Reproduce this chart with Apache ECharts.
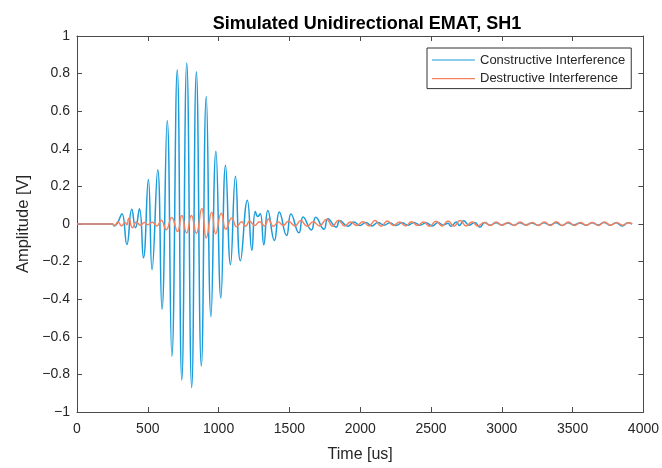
<!DOCTYPE html>
<html>
<head>
<meta charset="utf-8">
<script src="https://cdn.jsdelivr.net/npm/echarts@6/dist/echarts.min.js"></script>
<style>
html,body{margin:0;padding:0;background:#fff;}
#chart{width:662px;height:468px;}
</style>
</head>
<body>
<div id="chart"></div>
<script>
// ---- data (time [us], amplitude [V]) ----
var titleText = 'Simulated Unidirectional EMAT, SH1';
var xLabel = 'Time [us]';
var yLabel = 'Amplitude [V]';
var seriesNames = ['Constructive Interference', 'Destructive Interference'];
var xTicks = [0, 500, 1000, 1500, 2000, 2500, 3000, 3500, 4000];
var yTicks = [-1, -0.8, -0.6, -0.4, -0.2, 0, 0.2, 0.4, 0.6, 0.8, 1];

var constructive = [
  [0,0],[250,0],[262,-0.01],[285,0.004],[317,0.055],[352,-0.109],[387,0.078],[413,-0.02],
  [441,0.081],[469,-0.18],[504,0.237],[530,-0.242],[570,0.289],[600,-0.453],[637,0.55],
  [670,-0.704],[708,0.82],[740,-0.83],[775,0.856],[810,-0.87],[843,0.81],[878,-0.756],
  [913,0.678],[946,-0.493],[981,0.387],[1016,-0.393],[1049,0.313],[1084,-0.216],[1119,0.254],
  [1154,-0.196],[1203,0.126],[1235,-0.14],[1259,0.067],[1277,0.04],[1294,0.055],[1319,-0.11],
  [1348,0.072],[1394,-0.088],[1429,0.064],[1480,-0.061],[1511,0.053],[1567,-0.047],[1597,0.037],
  [1655,-0.032],[1686,0.036],[1744,-0.028],[1772,0.028],[1830,-0.017],[1856,0.018],[1912,-0.012],
  [1955,0.01],[1998,-0.008],[2040,0.008],[2082,-0.01],[2125,0.008],[2168,-0.006],[2210,0.006],
  [2252,-0.008],[2295,0.006],[2338,-0.006],[2380,0.008],[2422,-0.006],[2465,0.006],[2508,-0.01],
  [2550,0.008],[2585,-0.006],[2620,0.004],[2640,-0.012],[2680,0.01],[2700,-0.008],[2730,0.017],
  [2770,-0.006],[2809,0.008],[2846,-0.017],[2879,0.008],[2920,-0.006],[2960,0.006],[3000,-0.005],
  [3042,0.005],[3085,-0.006],[3128,0.006],[3170,-0.005],[3212,0.005],[3255,-0.006],[3298,0.006],
  [3340,-0.005],[3382,0.006],[3425,-0.008],[3468,0.006],[3510,-0.005],[3552,0.005],[3595,-0.006],
  [3638,0.006],[3680,-0.005],[3722,0.008],[3765,-0.006],[3808,0.006],[3850,-0.01],[3892,0.006],
  [3920,0]
];

var destructive = [
  [0,0],[252,0],[266,-0.008],[290,0.012],[314,-0.01],[340,0.008],[352,-0.004],[366,0.03],
  [392,-0.02],[420,0.01],[448,-0.006],[476,0.008],[500,-0.004],[532,0.009],[564,-0.01],
  [595,0.02],[630,-0.03],[669,0.035],[710,-0.04],[740,0.045],[774,-0.048],[808,0.045],
  [843,-0.05],[881,0.083],[913,-0.075],[951,0.062],[979,-0.052],[1019,0.057],[1051,-0.028],
  [1093,0.032],[1128,-0.015],[1163,0.012],[1191,-0.012],[1219,0.016],[1254,-0.008],[1289,0.012],
  [1324,-0.01],[1352,0.026],[1387,-0.012],[1422,0.01],[1457,-0.008],[1492,0.015],[1540,-0.01],
  [1580,0.018],[1625,-0.012],[1668,0.012],[1712,-0.01],[1762,0.025],[1805,-0.012],[1845,0.02],
  [1890,-0.01],[1932,0.01],[1975,-0.008],[2020,0.012],[2062,-0.01],[2105,0.018],[2148,-0.012],
  [2192,0.016],[2235,-0.008],[2278,0.01],[2320,-0.01],[2362,0.012],[2405,-0.008],[2448,0.01],
  [2490,-0.012],[2535,0.015],[2578,-0.01],[2620,0.016],[2662,-0.012],[2705,0.018],[2748,-0.01],
  [2790,0.01],[2832,-0.01],[2875,0.008],[2918,-0.008],[2960,0.01],[3002,-0.006],[3045,0.008],
  [3088,-0.008],[3130,0.01],[3172,-0.006],[3215,0.008],[3258,-0.008],[3300,0.01],[3342,-0.008],
  [3385,0.012],[3428,-0.008],[3470,0.01],[3512,-0.008],[3555,0.008],[3598,-0.006],[3640,0.008],
  [3682,-0.008],[3725,0.01],[3768,-0.006],[3810,0.008],[3852,-0.006],[3895,0.006],[3920,0]
];

var colors = ['#1A9BDB', '#F5825F'];
var FONT = "'Liberation Sans', Arial, Helvetica, sans-serif";
var TXT = '#262626';
var AXC = '#4a4a4a';

function yFmt(v) {
  var r = Math.round(v * 10) / 10;
  var s;
  if (r === 0) s = '0';
  else if (Math.abs(r) === 1) s = String(Math.abs(r));
  else s = Math.abs(r).toFixed(1);
  return (r < 0 ? '\u2212' : '') + s;
}
function xFmt(v) { return String(Math.round(v)); }

var chart = echarts.init(document.getElementById('chart'), null, {renderer: 'canvas'});
var grid = {left: 77, right: 14, top: 36, bottom: 47, show: false, containLabel: false};
var xBase = {min: xTicks[0], max: xTicks[xTicks.length - 1], interval: xTicks[1] - xTicks[0]};
var yBase = {min: yTicks[0], max: yTicks[yTicks.length - 1], interval: 0.2};

chart.setOption({
  animation: false,
  backgroundColor: '#fff',
  title: {
    text: titleText, left: 362, top: 10, textAlign: 'center',
    textStyle: {fontFamily: FONT, fontSize: 18, fontWeight: 'bold', color: '#000'}
  },
  legend: {
    orient: 'vertical', left: 427, top: 48,
    backgroundColor: '#fff', borderColor: '#333', borderWidth: 1, borderRadius: 0,
    padding: [5, 6, 3, 5], itemGap: 4.6, itemWidth: 43, itemHeight: 14,
    icon: 'path://M0,6.5 L43,6.5 L43,7.7 L0,7.7 Z',
    textStyle: {fontFamily: FONT, fontSize: 13, color: TXT, lineHeight: 14},
    data: seriesNames
  },
  grid: grid,
  xAxis: [
    Object.assign({
      type: 'value', position: 'bottom',
      name: xLabel, nameLocation: 'middle', nameGap: 35,
      nameTextStyle: {fontFamily: FONT, fontSize: 16, color: TXT},
      axisLine: {show: true, onZero: false, lineStyle: {color: AXC, width: 1}},
      axisTick: {show: true, inside: true, length: 5, lineStyle: {color: AXC}},
      axisLabel: {fontFamily: FONT, fontSize: 14, color: TXT, margin: 10, formatter: xFmt},
      splitLine: {show: false}
    }, xBase),
    Object.assign({
      type: 'value', position: 'top',
      axisLine: {show: true, onZero: false, lineStyle: {color: AXC, width: 1}},
      axisTick: {show: true, inside: true, length: 5, lineStyle: {color: AXC}},
      axisLabel: {show: false}, splitLine: {show: false}
    }, xBase)
  ],
  yAxis: [
    Object.assign({
      type: 'value', position: 'left',
      name: yLabel, nameLocation: 'middle', nameGap: 42, nameRotate: 90,
      nameTextStyle: {fontFamily: FONT, fontSize: 16.5, color: TXT},
      axisLine: {show: true, onZero: false, lineStyle: {color: AXC, width: 1}},
      axisTick: {show: true, inside: true, length: 5, lineStyle: {color: AXC}},
      axisLabel: {fontFamily: FONT, fontSize: 14, color: TXT, margin: 7, formatter: yFmt},
      splitLine: {show: false}
    }, yBase),
    Object.assign({
      type: 'value', position: 'right',
      axisLine: {show: true, onZero: false, lineStyle: {color: AXC, width: 1}},
      axisTick: {show: true, inside: true, length: 5, lineStyle: {color: AXC}},
      axisLabel: {show: false}, splitLine: {show: false}
    }, yBase)
  ],
  series: [
    {
      name: seriesNames[0], type: 'line', data: constructive,
      xAxisIndex: 0, yAxisIndex: 0,
      symbol: 'none', smooth: 0.5, color: colors[0],
      lineStyle: {width: 1.5, color: colors[0]}
    },
    {
      name: seriesNames[1], type: 'line', data: destructive,
      xAxisIndex: 0, yAxisIndex: 0,
      symbol: 'none', smooth: 0.5, color: colors[1],
      lineStyle: {width: 1.5, color: colors[1]}
    }
  ]
});
</script>
</body>
</html>
